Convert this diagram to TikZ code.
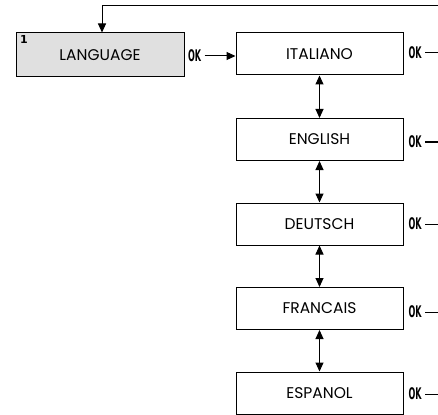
\documentclass[tikz,border=0pt]{standalone}
\usepackage{fontspec}
\setmainfont{Poppins}
\newfontfamily\okfont{DejaVu Sans}
\usetikzlibrary{arrows.meta}
\begin{document}
\begin{tikzpicture}[x=1pt,y=-1pt,
  line width=1pt,
  menubox/.style={draw, minimum width=167pt, minimum height=42pt, inner sep=0pt, font=\fontsize{15.5}{17}\selectfont},
  okl/.style={inner sep=0pt, font=\okfont\bfseries\fontsize{16}{16}\selectfont},
  arr/.style={-{Triangle[length=9pt,width=8pt]}},
  darr/.style={{Triangle[length=9pt,width=8pt]}-{Triangle[length=9pt,width=8pt]}}]
\useasboundingbox (0,0) rectangle (438,414);
\node[menubox, fill=black!12, minimum width=168pt, minimum height=44pt] (lang) at (100,55) {LANGUAGE};
\node[anchor=north west, inner sep=0pt, font=\okfont\bfseries\fontsize{11}{11}\selectfont] (num) at ([shift={(4pt,-2pt)}]lang.north west) {1};
\node[menubox] (ital) at (319.5,54) {ITALIANO};
\node[menubox] (engl) at (319.5,139.5) {ENGLISH};
\node[menubox] (deut) at (319.5,224) {DEUTSCH};
\node[menubox] (fran) at (319.5,308.5) {FRANCAIS};
\node[menubox] (espa) at (319.5,393) {ESPANOL};
\node[okl] (ok0) at (194.5,56) {\scalebox{0.5}[1]{OK}};
\node[okl] (ok1) at (415,53) {\scalebox{0.5}[1]{OK}};
\node[okl] (ok2) at (415,142) {\scalebox{0.5}[1]{OK}};
\node[okl] (ok3) at (415,224) {\scalebox{0.5}[1]{OK}};
\node[okl] (ok4) at (415,312) {\scalebox{0.5}[1]{OK}};
\node[okl] (ok5) at (415,394) {\scalebox{0.5}[1]{OK}};
\coordinate (top) at (438,6);
\coordinate (e1) at (438,53);
\coordinate (e2) at (438,142);
\coordinate (e3) at (438,224);
\coordinate (e4) at (438,312);
\coordinate (e5) at (438,394);
\draw[arr] (top) -| ([xshift=2pt]lang.north);
\draw[arr] ([xshift=3pt]ok0.east) -- (ok0.east -| ital.west);
\foreach \i in {1,...,5}{\draw ([xshift=3pt]ok\i.east) -- (ok\i.east -| e\i);}
\draw[darr] (ital.south) -- (engl.north);
\draw[darr] (engl.south) -- (deut.north);
\draw[darr] (deut.south) -- (fran.north);
\draw[darr] (fran.south) -- (espa.north);
\end{tikzpicture}
\end{document}
